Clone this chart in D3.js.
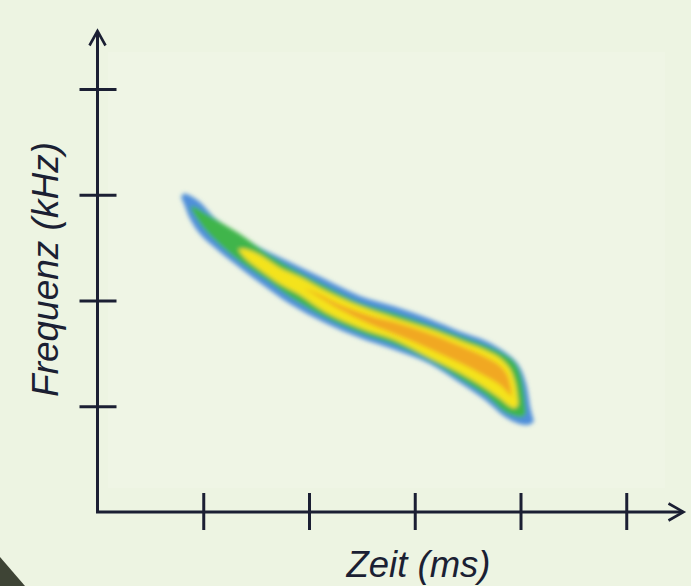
<!DOCTYPE html>
<html>
<head>
<meta charset="utf-8">
<script src="https://cdn.jsdelivr.net/npm/d3@7"></script>
<style>
  html, body { margin: 0; padding: 0; background: #edf4e2; }
  #chart { width: 691px; height: 586px; }
</style>
</head>
<body>
<div id="chart"></div>
<script>
// axis ticks (no labels in the figure)
var timeTicks = [1, 2, 3, 4, 5];
var freqTicks = [1, 2, 3, 4];

// spectrogram intensity bands, each row: [time, upper freq, lower freq]
var blueBand = [
  [0.790, 2.979, 2.979], [0.818, 3.012, 2.913], [0.875, 2.993, 2.771],
  [0.969, 2.931, 2.629], [1.111, 2.780, 2.496], [1.300, 2.652, 2.345],
  [1.537, 2.501, 2.165], [1.820, 2.364, 1.967], [2.151, 2.203, 1.787],
  [2.482, 2.043, 1.645], [2.813, 1.943, 1.532], [3.144, 1.825, 1.400],
  [3.428, 1.707, 1.220], [3.664, 1.622, 1.059], [3.853, 1.513, 0.898],
  [3.976, 1.400, 0.837], [4.052, 1.220, 0.823], [4.099, 0.965, 0.832],
  [4.128, 0.861, 0.861]
];
var greenBand = [
  [0.875, 2.884, 2.884], [0.922, 2.884, 2.799], [1.017, 2.827, 2.667],
  [1.158, 2.742, 2.525], [1.348, 2.629, 2.364], [1.584, 2.459, 2.203],
  [1.820, 2.317, 2.033], [2.151, 2.142, 1.839], [2.482, 1.981, 1.693],
  [2.813, 1.882, 1.579], [3.144, 1.768, 1.428], [3.428, 1.664, 1.258],
  [3.664, 1.579, 1.106], [3.853, 1.489, 0.946], [3.957, 1.400, 0.903],
  [4.014, 1.248, 0.898], [4.052, 0.946, 0.927]
];
var yellowBand = [
  [1.329, 2.487, 2.487], [1.395, 2.487, 2.402], [1.537, 2.430, 2.288],
  [1.726, 2.307, 2.156], [1.915, 2.222, 2.052], [2.151, 2.095, 1.891],
  [2.482, 1.948, 1.740], [2.813, 1.835, 1.626], [3.144, 1.730, 1.456],
  [3.428, 1.622, 1.314], [3.664, 1.532, 1.173], [3.806, 1.456, 1.073],
  [3.901, 1.352, 0.998], [3.948, 1.229, 0.983], [3.976, 1.059, 1.012]
];
var orangeBand = [
  [1.950, 2.110, 2.110], [2.057, 2.075, 2.055], [2.293, 1.960, 1.915],
  [2.577, 1.855, 1.775], [2.861, 1.780, 1.662], [3.144, 1.685, 1.540],
  [3.428, 1.572, 1.408], [3.664, 1.468, 1.285], [3.806, 1.383, 1.200],
  [3.882, 1.280, 1.125], [3.920, 1.090, 1.090]
];

var bands = [
  { data: blueBand, color: "#4f8fda" },
  { data: greenBand, color: "#3fb54c" },
  { data: yellowBand, color: "#f4e31c" },
  { data: orangeBand, color: "#f1a823" }
];

var width = 691, height = 586;
var axisColor = "#1b1f33";
var fontFamily = "'Liberation Sans', Arial, Helvetica, sans-serif";

var svg = d3.select("#chart")
  .append("svg")
  .attr("width", width)
  .attr("height", height);

var x = d3.scaleLinear().domain([0, 5]).range([97.5, 626.25]);
var y = d3.scaleLinear().domain([0, 4]).range([512, 89]);

// slightly lighter plot panel behind the spectrogram
svg.append("rect")
  .attr("x", 108).attr("y", 52)
  .attr("width", 557).attr("height", 436)
  .attr("fill", "#eff5e5");

// dark corner in the bottom-left
svg.append("path")
  .attr("d", "M0,557 L25,586 L0,586 Z")
  .attr("fill", "#3e4435");

var defs = svg.append("defs");
defs.append("filter")
  .attr("id", "soft")
  .attr("x", "-10%").attr("y", "-10%")
  .attr("width", "120%").attr("height", "120%")
  .append("feGaussianBlur")
  .attr("stdDeviation", 1.9);

var area = d3.area()
  .x(function (d) { return x(d[0]); })
  .y0(function (d) { return y(d[2]); })
  .y1(function (d) { return y(d[1]); })
  .curve(d3.curveCatmullRom.alpha(0.5));

svg.append("g")
  .attr("filter", "url(#soft)")
  .selectAll("path")
  .data(bands)
  .enter()
  .append("path")
  .attr("d", function (d) { return area(d.data); })
  .attr("fill", function (d) { return d.color; });

// ticks cross the axis lines
var xAxis = svg.append("g")
  .attr("transform", "translate(0," + y(0) + ")")
  .call(d3.axisBottom(x).tickValues(timeTicks).tickFormat("").tickSizeOuter(0));
xAxis.select(".domain").remove();
xAxis.selectAll(".tick line")
  .attr("y1", -19).attr("y2", 18)
  .attr("stroke", axisColor).attr("stroke-width", 3);

var yAxis = svg.append("g")
  .attr("transform", "translate(" + x(0) + ",0)")
  .call(d3.axisLeft(y).tickValues(freqTicks).tickFormat("").tickSizeOuter(0));
yAxis.select(".domain").remove();
yAxis.selectAll(".tick line")
  .attr("x1", -18).attr("x2", 19)
  .attr("stroke", axisColor).attr("stroke-width", 3);

// axis lines with open arrow heads
var x0 = x(0), y0 = y(0);
svg.append("path")
  .attr("d", "M" + x0 + ",31 L" + x0 + "," + y0 + " L683," + y0)
  .attr("fill", "none").attr("stroke", axisColor).attr("stroke-width", 3);
svg.append("path")
  .attr("d", "M" + (x0 - 8) + ",45.5 L" + x0 + ",31 L" + (x0 + 8) + ",45.5")
  .attr("fill", "none").attr("stroke", axisColor).attr("stroke-width", 2.6);
svg.append("path")
  .attr("d", "M668.5," + (y0 - 8.5) + " L683.5," + y0 + " L668.5," + (y0 + 8.5))
  .attr("fill", "none").attr("stroke", axisColor).attr("stroke-width", 2.6);

// axis titles
svg.append("text")
  .attr("transform", "translate(58,269.5) rotate(-90)")
  .attr("text-anchor", "middle")
  .attr("style", "font-family:" + fontFamily + "; font-style:italic; font-size:37px;")
  .attr("fill", axisColor)
  .text("Frequenz (kHz)");

svg.append("text")
  .attr("x", 418.5)
  .attr("y", 577)
  .attr("text-anchor", "middle")
  .attr("style", "font-family:" + fontFamily + "; font-style:italic; font-size:36.5px;")
  .attr("fill", axisColor)
  .text("Zeit (ms)");
</script>
</body>
</html>
